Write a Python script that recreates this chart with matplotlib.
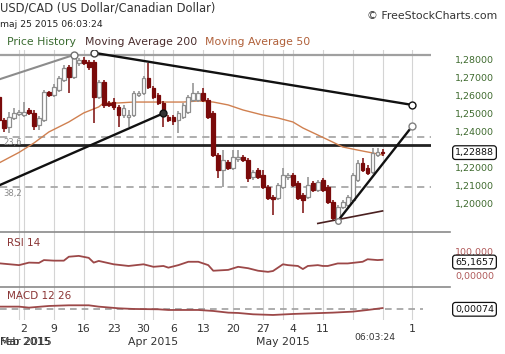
import matplotlib
matplotlib.use("Agg")
import matplotlib.pyplot as plt
import matplotlib.transforms as mtrans
from matplotlib.lines import Line2D

# ---------------- data ----------------
# candle index: 6 sessions per week (Sun..Fri); index 0 = Mon 2 Mar 2015
candle_idx = list(range(-5, 73))
candle_open = [1.2596, 1.2469, 1.2430, 1.2480, 1.2502, 1.2496, 1.2524, 1.2508, 1.2441, 1.2469,
               1.2623, 1.2607, 1.2634, 1.2690, 1.2761, 1.2706, 1.2783, 1.2800, 1.2789, 1.2789,
               1.2596, 1.2679, 1.2563, 1.2568, 1.2541, 1.2496, 1.2485, 1.2496, 1.2607, 1.2618,
               1.2701, 1.2645, 1.2607, 1.2563, 1.2485, 1.2485, 1.2469, 1.2485, 1.2513, 1.2579,
               1.2579, 1.2618, 1.2579, 1.2508, 1.2276, 1.2193, 1.2237, 1.2204, 1.2254, 1.2265,
               1.2248, 1.2154, 1.2193, 1.2165, 1.2099, 1.2044, 1.2038, 1.2099, 1.2154, 1.2165,
               1.2121, 1.2055, 1.2044, 1.2121, 1.2083, 1.2138, 1.2099, 1.2016, 1.1917, 1.1989,
               1.2000, 1.2027, 1.2138, 1.2232, 1.2204, 1.2182, 1.2276, 1.2292]
candle_high = [1.2607, 1.2480, 1.2513, 1.2535, 1.2524, 1.2568, 1.2535, 1.2524, 1.2491, 1.2634,
               1.2629, 1.2668, 1.2712, 1.2772, 1.2772, 1.2822, 1.2811, 1.2817, 1.2800, 1.2800,
               1.2690, 1.2690, 1.2574, 1.2590, 1.2552, 1.2552, 1.2524, 1.2629, 1.2629, 1.2712,
               1.2783, 1.2657, 1.2618, 1.2574, 1.2496, 1.2496, 1.2519, 1.2563, 1.2607, 1.2673,
               1.2629, 1.2645, 1.2590, 1.2519, 1.2287, 1.2303, 1.2248, 1.2303, 1.2303, 1.2276,
               1.2259, 1.2193, 1.2204, 1.2193, 1.2110, 1.2055, 1.2121, 1.2204, 1.2176, 1.2176,
               1.2132, 1.2066, 1.2154, 1.2132, 1.2138, 1.2149, 1.2110, 1.2027, 1.2000, 1.2027,
               1.2055, 1.2176, 1.2248, 1.2259, 1.2221, 1.2314, 1.2314, 1.2309]
candle_low = [1.2458, 1.2403, 1.2397, 1.2469, 1.2491, 1.2485, 1.2496, 1.2414, 1.2414, 1.2458,
              1.2596, 1.2596, 1.2623, 1.2679, 1.2618, 1.2695, 1.2767, 1.2772, 1.2745, 1.2452,
              1.2585, 1.2535, 1.2541, 1.2524, 1.2430, 1.2480, 1.2430, 1.2485, 1.2596, 1.2607,
              1.2640, 1.2585, 1.2552, 1.2430, 1.2458, 1.2441, 1.2397, 1.2474, 1.2502, 1.2568,
              1.2568, 1.2568, 1.2474, 1.2265, 1.2149, 1.2099, 1.2193, 1.2193, 1.2237, 1.2237,
              1.2127, 1.2138, 1.2143, 1.2088, 1.2027, 1.1945, 1.2027, 1.2088, 1.2138, 1.2099,
              1.2027, 1.1956, 1.2033, 1.2072, 1.2072, 1.2072, 1.2005, 1.1917, 1.1911, 1.1978,
              1.1989, 1.2016, 1.2127, 1.2182, 1.2165, 1.2171, 1.2265, 1.2270]
candle_close = [1.2469, 1.2425, 1.2485, 1.2508, 1.2513, 1.2513, 1.2508, 1.2436, 1.2480, 1.2623,
                1.2607, 1.2651, 1.2701, 1.2756, 1.2706, 1.2811, 1.2800, 1.2783, 1.2761, 1.2596,
                1.2679, 1.2552, 1.2552, 1.2541, 1.2496, 1.2535, 1.2496, 1.2618, 1.2618, 1.2701,
                1.2651, 1.2596, 1.2563, 1.2496, 1.2469, 1.2463, 1.2508, 1.2552, 1.2596, 1.2618,
                1.2618, 1.2579, 1.2485, 1.2276, 1.2193, 1.2248, 1.2204, 1.2265, 1.2265, 1.2248,
                1.2149, 1.2182, 1.2154, 1.2099, 1.2038, 1.2033, 1.2110, 1.2165, 1.2165, 1.2110,
                1.2038, 1.2027, 1.2110, 1.2083, 1.2127, 1.2083, 1.2016, 1.1928, 1.1989, 1.2016,
                1.2044, 1.2165, 1.2232, 1.2193, 1.2176, 1.2287, 1.2292, 1.22888]

ma50_idx = [-5, -1, 2, 5, 9, 12, 15, 16, 19, 22, 25, 29, 32, 35, 38, 41, 44, 48, 51, 54,
            56, 59, 62, 64, 67, 70, 72]
ma50_val = [1.2232, 1.2290, 1.2342, 1.2403, 1.2458, 1.2508, 1.2541, 1.2563, 1.2563, 1.2568,
            1.2568, 1.2568, 1.2568, 1.2574, 1.2568, 1.2552, 1.2524, 1.2496, 1.2480, 1.2458,
            1.2425, 1.2386, 1.2347, 1.2320, 1.2303, 1.2287, 1.2276]

rsi_idx = [-5, -1, 1, 3, 4, 6, 8, 9, 11, 13, 14, 15, 18, 21, 24, 26, 28, 29, 31, 33, 35, 37,
           38, 41, 43, 45, 47, 49, 50, 52, 53, 55, 56, 57, 59, 60, 61, 63, 65, 67, 68, 69, 71, 72]
rsi_val = [52.5, 46, 55, 54, 64, 62, 62, 76, 79, 72, 55, 61, 49, 43, 49, 40, 43, 37, 46, 58, 58, 46,
           26, 29, 40, 35, 26, 22, 25, 49, 46, 43, 32, 43, 46, 43, 43, 52, 52, 56, 58, 67, 64, 65.17]

macd_idx = [-5, -1, 1, 5, 9, 13, 15, 19, 22, 27, 29, 35, 38, 41, 43, 46, 50, 54, 58, 62, 66, 69, 72]
macd_val = [0.0016, 0.0016, 0.0010, 0.0020, 0.0024, 0.0024, 0.0016, 0.0006, 0.0002, 0.0000,
            -0.0004, -0.0004, -0.0010, -0.0020, -0.0022, -0.0030, -0.0034, -0.0028, -0.0024,
            -0.0020, -0.0014, -0.0004, 0.00074]

# drawn objects (index, price)
trend_gray = ([-5, 10], [1.2693, 1.2828])
trend_down = ([14, 78], [1.2840, 1.2552])
trend_support = ([-5, 28], [1.2108, 1.2506])
trend_up = ([63, 78], [1.1911, 1.2436])
trend_low = ([59, 72], [1.1898, 1.1967])
hline_price = 1.2333
fib_high, fib_low = 1.2828, 1.0915
fib_ratios = [0.0, 23.6, 38.2]

week_idx = [0, 6, 12, 18, 24, 30, 36, 42, 48, 54, 60, 66, 72, 78]
week_labels = ["2", "9", "16", "23", "30", "6", "13", "20", "27", "4", "11", "", "", "1"]
month_idx = [-1, 26, 52]
month_labels = ["Mar 2015", "Apr 2015", "May 2015"]
price_ticks = [1.28, 1.27, 1.26, 1.25, 1.24, 1.22, 1.21, 1.20]
last_price = 1.22888
last_rsi = 65.1657
last_macd = 0.00074
time_label = "06:03:24"

# ---------------- figure ----------------
W, H = 506, 354
fig = plt.figure(figsize=(W / 100, H / 100), dpi=100)
fig.patch.set_facecolor("white")


def rect(x0, y0, x1, y1):
    return [x0 / W, 1 - y1 / H, (x1 - x0) / W, (y1 - y0) / H]


XL = (-4.82, 81.73)
ax = fig.add_axes(rect(0, 50, 431, 232))
ax_rsi = fig.add_axes(rect(0, 232, 431, 287))
ax_macd = fig.add_axes(rect(0, 287, 431, 320))
for a in (ax, ax_rsi, ax_macd):
    a.set_xlim(*XL)
    a.axis("off")
    a.patch.set_alpha(0)
    for gx in week_idx + month_idx:
        a.axvline(gx, color="#d4d4d4", lw=0.8, zorder=0)

ax.set_ylim(1.18508, 1.28552)
ax_rsi.set_ylim(-32.1, 164.3)
ax_macd.set_ylim(-0.00642, 0.01338)

# fibonacci levels
for r in fib_ratios:
    lvl = fib_high - r / 100 * (fib_high - fib_low)
    if r == 0:
        ax.axhline(lvl, color="#a0a0a0", lw=1.6, zorder=1)
    else:
        ax.axhline(lvl, color="#a8a8a8", lw=1.3, ls=(0, (4, 3)), zorder=1)
        ax.annotate(f"{r:.1f}".replace(".", ","), xy=(0, lvl), xycoords=("axes fraction", "data"),
                    xytext=(3, -1.5), textcoords="offset pixels", ha="left", va="top",
                    fontsize=6, color="#8a8a8a")

ax.axhline(hline_price, color="#222222", lw=2.0, zorder=2)

# moving average 50
ax.plot(ma50_idx, ma50_val, color="#d08050", lw=1.0, zorder=2)

# candles
for i, o, h, l, c in zip(candle_idx, candle_open, candle_high, candle_low, candle_close):
    up = c >= o
    col = "#8e8e8e" if up else "#7a0a0a"
    ax.vlines(i, l, h, color=col, lw=1.1, zorder=3)
    bot = min(o, c)
    ht = max(abs(c - o), 0.0003)
    ax.bar(i, ht, bottom=bot, width=0.74, facecolor="white" if up else "#7a0a0a",
           edgecolor=col, lw=0.9, zorder=4)

# trendlines
ax.plot(*trend_gray, color="#8c8c8c", lw=1.5, zorder=5)
ax.plot(*trend_down, color="#111111", lw=1.7, zorder=5)
ax.plot(*trend_support, color="#111111", lw=1.7, zorder=5)
ax.plot(*trend_up, color="#111111", lw=1.7, zorder=5)
ax.plot(*trend_low, color="#4a2020", lw=1.2, zorder=5)
mk = dict(ms=5, mew=1.0, mfc="white", zorder=6, ls="none", marker="o")
ax.plot(trend_gray[0][1], trend_gray[1][1], mec="#707070", **mk)
ax.plot(trend_down[0][0], trend_down[1][0], mec="#404040", **mk)
ax.plot(trend_down[0][1], trend_down[1][1], mec="#111111", **mk)
ax.plot(trend_support[0][1], trend_support[1][1], mec="#111111", **dict(mk, mfc="#333333"))
ax.plot(trend_up[0][0], trend_up[1][0], mec="#808080", **dict(mk, ms=4))
ax.plot(trend_up[0][1], trend_up[1][1], mec="#808080", **mk)

# price labels (right)
lab_x = 494 / W
tr_main = mtrans.blended_transform_factory(fig.transFigure, ax.transData)
for p in price_ticks:
    ax.text(lab_x, p, f"{p:.5f}".replace(".", ","), transform=tr_main, ha="right",
            va="center", fontsize=6.8, color="#3f6b2f", clip_on=False)
box = dict(boxstyle="round,pad=0.25,rounding_size=0.3", fc="white", ec="#111111", lw=0.9)
ax.text(lab_x, last_price, f"{last_price:.5f}".replace(".", ","), transform=tr_main,
        ha="right", va="center", fontsize=6.8, color="#111111", bbox=box, clip_on=False)

# RSI
ax_rsi.plot(rsi_idx, rsi_val, color="#9c4848", lw=1.3)
tr_rsi = mtrans.blended_transform_factory(fig.transFigure, ax_rsi.transData)
ax_rsi.text(7 / W, 0.8, "RSI 14", transform=mtrans.blended_transform_factory(fig.transFigure, ax_rsi.transAxes),
            fontsize=7.5, color="#8a3535", va="center")
ax_rsi.text(lab_x, 90, "100,000", transform=tr_rsi, ha="right", va="center", fontsize=6.8, color="#b05a5a")
ax_rsi.text(lab_x, 7, "0,00000", transform=tr_rsi, ha="right", va="center", fontsize=6.8, color="#b05a5a")
ax_rsi.text(lab_x, last_rsi - 8, f"{last_rsi:.4f}".replace(".", ","), transform=tr_rsi, ha="right",
            va="center", fontsize=6.8, color="#111111", bbox=box)

# MACD
ax_macd.axhline(0, color="#a0a0a0", lw=1.2, ls=(0, (4, 3)), xmax=(423) / 431)
ax_macd.plot(macd_idx, macd_val, color="#9c4848", lw=1.3)
tr_macd = mtrans.blended_transform_factory(fig.transFigure, ax_macd.transData)
ax_macd.text(7 / W, 0.72, "MACD 12 26", transform=mtrans.blended_transform_factory(fig.transFigure, ax_macd.transAxes),
             fontsize=7.5, color="#8a3535", va="center")
ax_macd.text(lab_x, 0.0, f"{last_macd:.5f}".replace(".", ","), transform=tr_macd, ha="right",
             va="center", fontsize=6.8, color="#111111", bbox=box)

# x labels
tr_x = mtrans.blended_transform_factory(ax_macd.transData, fig.transFigure)
for gx, lab in zip(week_idx, week_labels):
    if lab:
        ax_macd.text(gx, 1 - 329 / H, lab, transform=tr_x, ha="center", va="center",
                     fontsize=7.8, color="#333333", clip_on=False)
ax_macd.text(70.4, 1 - 337 / H, time_label, transform=tr_x, ha="center", va="center",
             fontsize=6.6, color="#333333", clip_on=False)
for mx, lab in zip(month_idx, month_labels):
    if mx < 0:
        fig.text(0.0, 1 - 342 / H, "Feb 2015", ha="left", va="center", fontsize=7.8, color="#333333")
        fig.text(0.0, 1 - 342 / H, lab, ha="left", va="center", fontsize=7.8, color="#333333")
    else:
        ax_macd.text(mx, 1 - 342 / H, lab, transform=tr_x, ha="center", va="center",
                     fontsize=7.8, color="#333333", clip_on=False)

# separators
for yy in (232, 287):
    fig.add_artist(Line2D([0, 450 / W], [1 - yy / H, 1 - yy / H], color="#8a8a8a", lw=1.2))

# header
fig.text(0.0, 1 - 8 / H, "USD/CAD (US Dollar/Canadian Dollar)", ha="left", va="center",
         fontsize=8.3, color="#333333")
fig.text(0.0, 1 - 24.5 / H, "maj 25 2015 06:03:24", ha="left", va="center", fontsize=6.7, color="#222222")
fig.text(497 / W, 1 - 16 / H, "\u00a9 FreeStockCharts.com", ha="right", va="center", fontsize=7.8,
         color="#333333")
fig.text(7 / W, 1 - 42 / H, "Price History", ha="left", va="center", fontsize=7.8, color="#3a6b30")
fig.text(85 / W, 1 - 42 / H, "Moving Average 200", ha="left", va="center", fontsize=7.8, color="#4a2c2c")
fig.text(205 / W, 1 - 42 / H, "Moving Average 50", ha="left", va="center", fontsize=7.8, color="#b0603a")

fig.savefig("out.png", dpi=100, facecolor="white")
